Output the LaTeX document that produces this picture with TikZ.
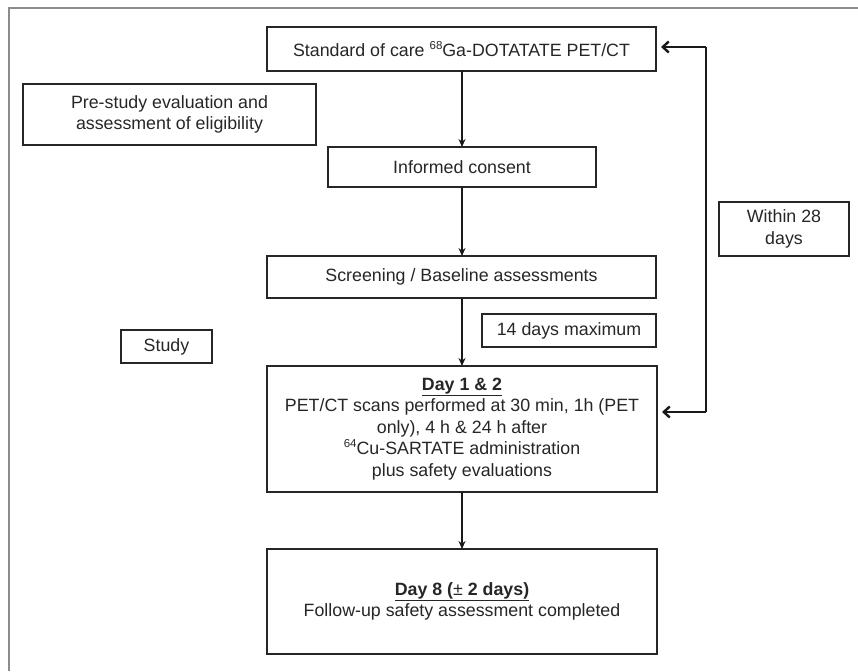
\documentclass[tikz,border=0pt]{standalone}
\usepackage{fontspec}
\setmainfont{Liberation Sans}
\usetikzlibrary{arrows.meta}
\newcommand{\supnum}[1]{\raisebox{0.42em}{\fontsize{11.5}{12}\selectfont #1}}
\begin{document}
\begin{tikzpicture}[x=1pt,y=-1pt,
  box/.style={draw=black!85, line width=1.4pt, inner sep=0pt, outer sep=0pt, align=center,
    font=\fontsize{17.8}{21.5}\selectfont, text=black!85},
  down/.style={line width=2.4pt, draw=black!90, -{Stealth[length=8pt,width=7pt]}},
  barb/.style={line width=2.4pt, draw=black!90, -{Straight Barb[length=6pt,width=11pt,line width=2.4pt]}, shorten >=5pt},
  frame/.style={draw=black!45, line width=1.4pt}]
\useasboundingbox (0,0) rectangle (858,671);
\coordinate (f1) at (9,671);
\coordinate (f2) at (9,8);
\coordinate (f3) at (858,8);
\draw[frame] (f1) -- (f2) -- (f3);

\node[box, minimum width=389, minimum height=44] (top) at (461.5,49) {Standard of care \supnum{68}Ga-DOTATATE PET/CT};
\node[box, minimum width=293, minimum height=61] (pre) at (169.5,114.5) {Pre-study evaluation and\\assessment of eligibility};
\node[box, minimum width=268, minimum height=40] (consent) at (462,167) {Informed consent};
\node[box, minimum width=389, minimum height=42] (screen) at (461.5,277) {Screening / Baseline assessments};
\node[box, minimum width=174, minimum height=33] (days14) at (569,330.5) {14 days maximum};
\node[box, minimum width=91, minimum height=33] (study) at (166.5,346.5) {Study};
\node[box, minimum width=390, minimum height=126] (day1) at (462,429) {\underline{\textbf{Day 1 \& 2}}\\PET/CT scans performed at 30 min, 1h (PET\\only), 4 h \& 24 h after\\\supnum{64}Cu-SARTATE administration\\plus safety evaluations};
\node[box, minimum width=390, minimum height=105] (day8) at (462,601.5) {\underline{\textbf{Day 8 (}{±}\textbf{ 2 days)}}\\Follow-up safety assessment completed};
\node[box, minimum width=130, minimum height=54] (within) at (784,229) {Within 28\\days};

\draw[down] (top.south -| consent.north) -- (consent.north);
\draw[down] (consent.south) -- (screen.north -| consent.south);
\draw[down] (screen.south -| day1.north) -- (day1.north);
\draw[down] (day1.south) -- (day8.north);

\coordinate (rb) at (706,412);
\coordinate (rt) at (706,47);
\draw[line width=1.4pt, draw=black!90] (rb) -- (rt);
\draw[barb] (rt) -- (rt -| top.east);
\draw[barb] (rb) -- (rb -| day1.east);
\end{tikzpicture}
\end{document}
